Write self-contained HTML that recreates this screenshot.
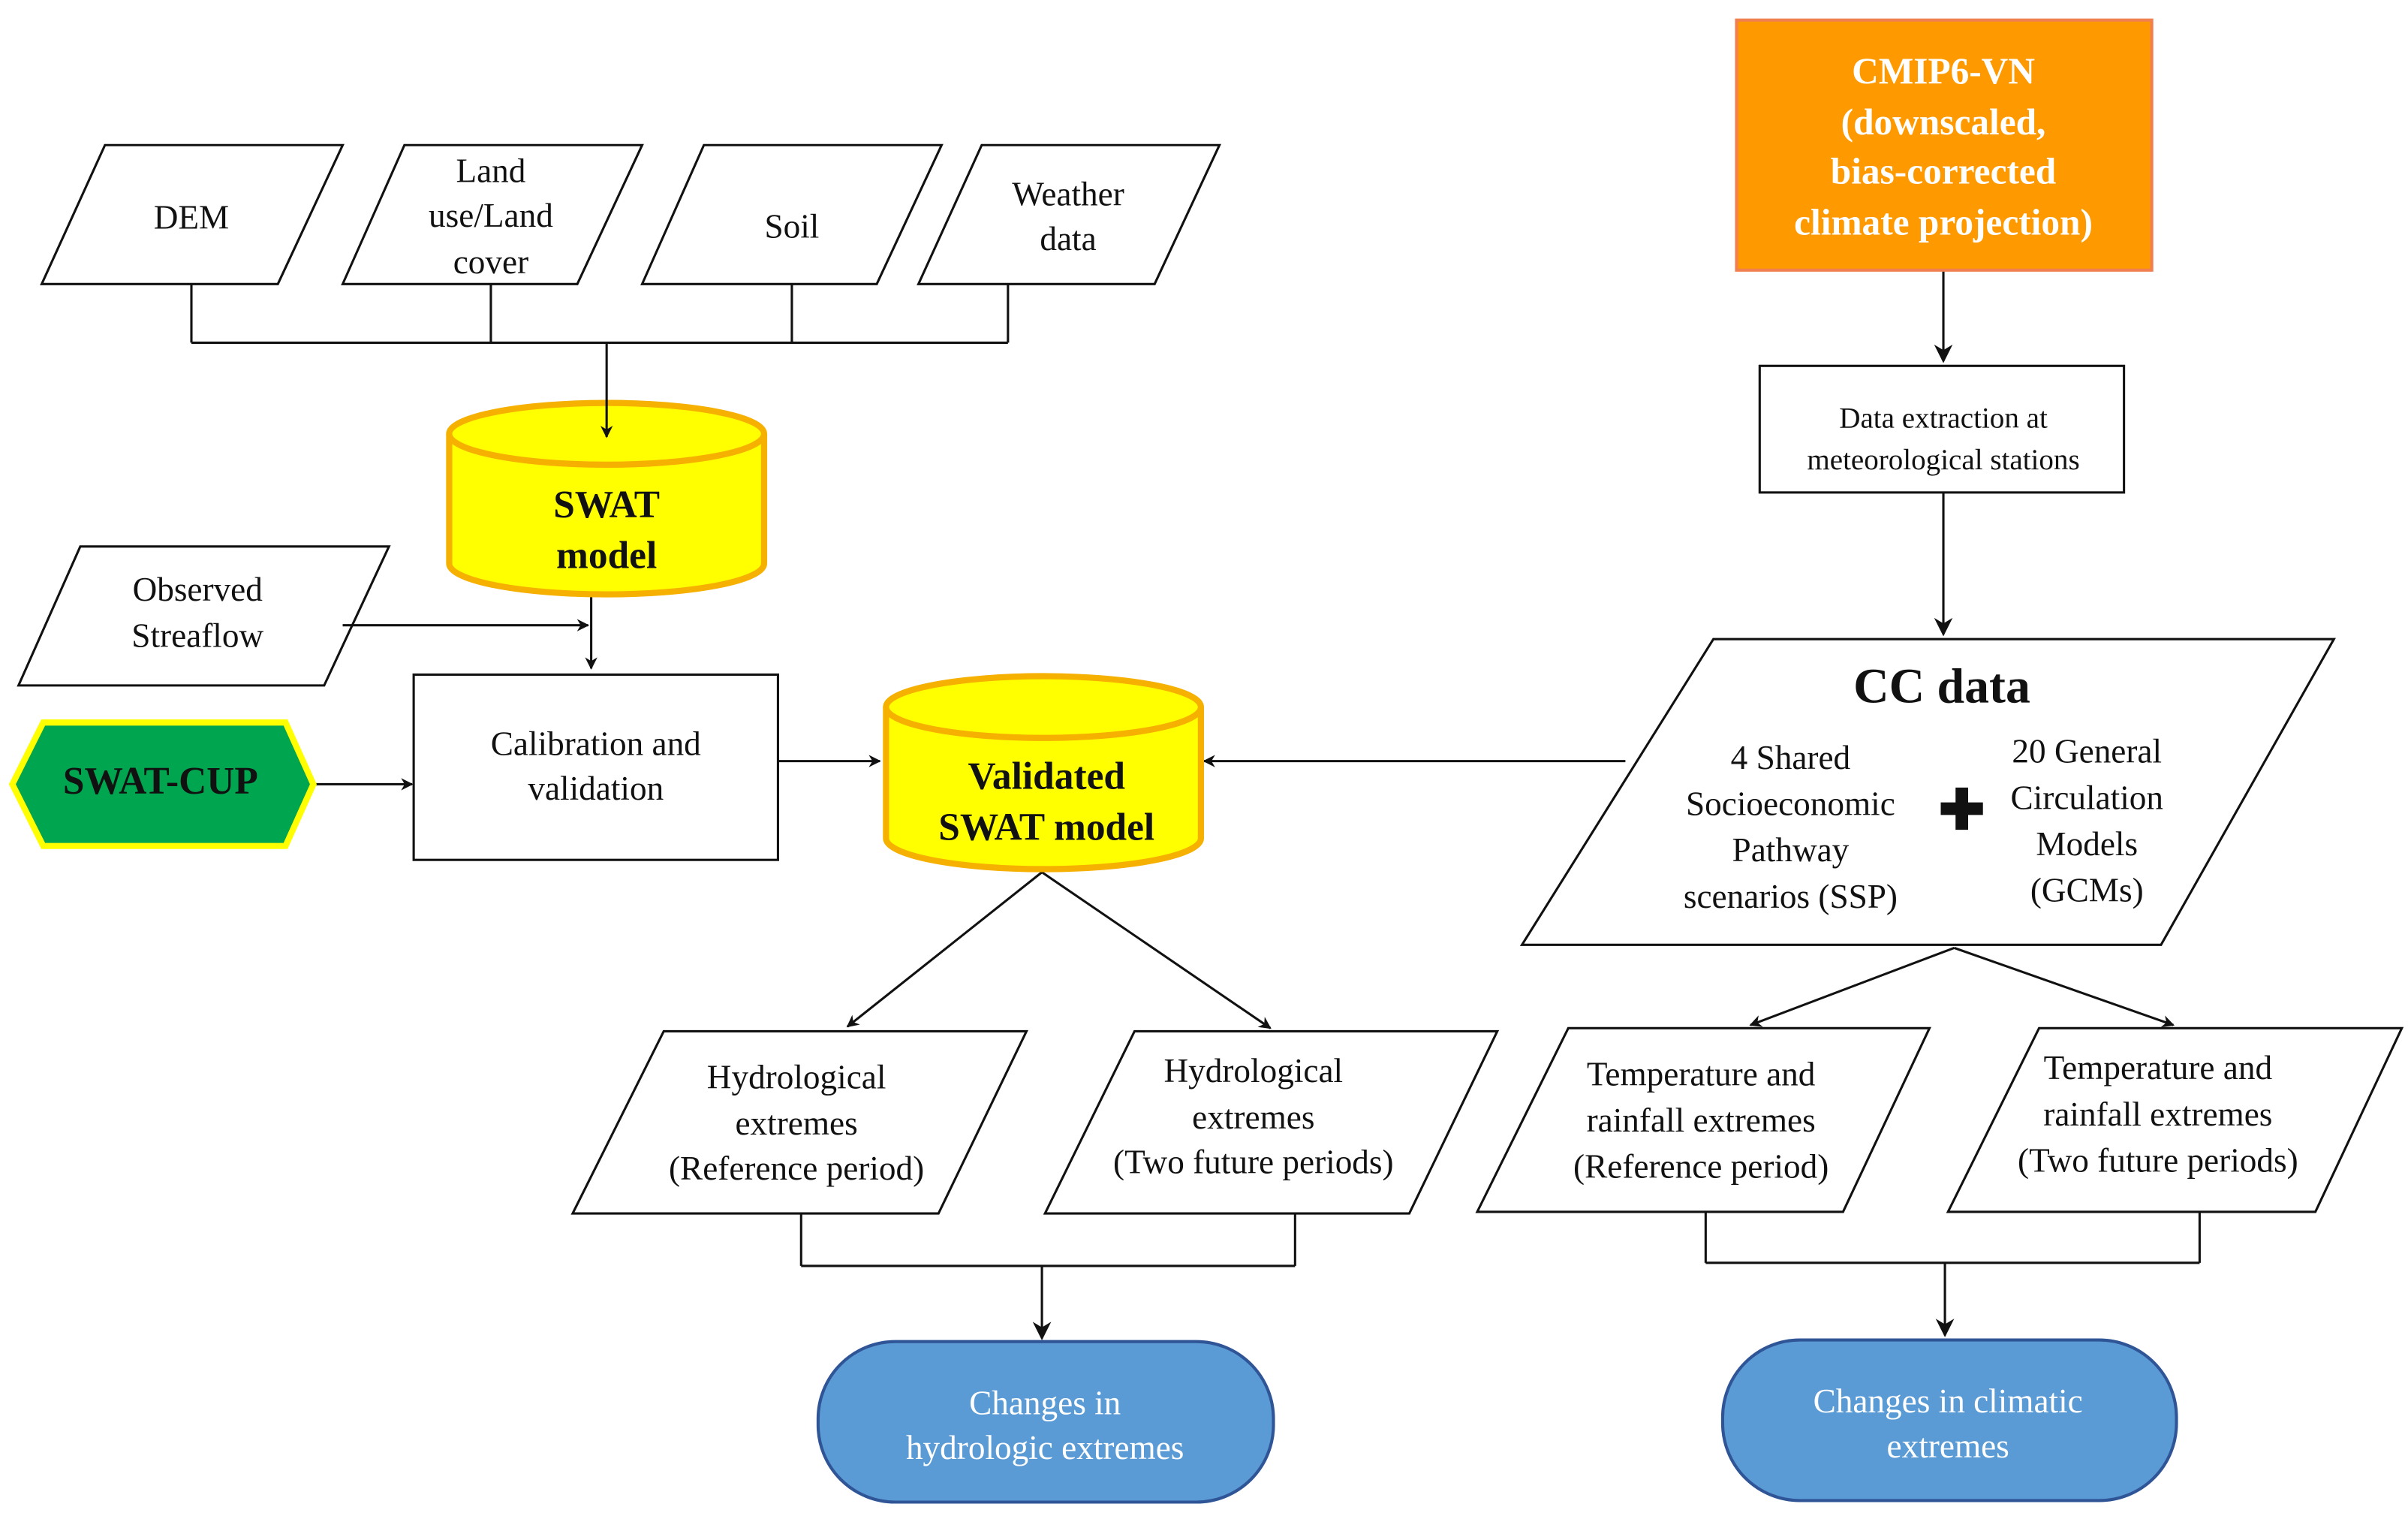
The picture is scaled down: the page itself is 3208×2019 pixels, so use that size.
<!DOCTYPE html>
<html><head><meta charset="utf-8"><style>
html,body{margin:0;padding:0;background:#fff;}
svg{display:block;}
text{font-family:"Liberation Serif","Times New Roman",Times,"DejaVu Serif",serif;font-size:22px;fill:#111;text-anchor:middle;}
.b{font-weight:bold;}
.w{fill:#fff;}
</style></head><body>
<svg width="3208" height="2019" viewBox="0 0 1560 982" preserveAspectRatio="none" font-family="Liberation Serif, Times New Roman, DejaVu Serif, serif">
<defs>
<marker id="a" viewBox="0 0 10 10" refX="9" refY="5" markerWidth="8" markerHeight="8" orient="auto" markerUnits="userSpaceOnUse">
<path d="M0,0 L10,5 L0,10 L3,5 z" fill="#111"/></marker>
<marker id="a2" viewBox="0 0 10 10" refX="9" refY="5" markerWidth="12" markerHeight="12" orient="auto" markerUnits="userSpaceOnUse">
<path d="M0,0 L10,5 L0,10 L3,5 z" fill="#111"/></marker>
</defs>
<g fill="#fff" stroke="#111" stroke-width="1.5">
<polygon points="68,94 222,94 180,184 27,184"/>
<polygon points="262,94 416,94 374,184 222,184"/>
<polygon points="456,94 610,94 568,184 416,184"/>
<polygon points="636,94 790,94 748,184 595,184"/>
<polygon points="52,354 252,354 210,444 12,444"/>
<rect x="268" y="437" width="236" height="120"/>
<polygon points="1110,414 1512,414 1400,612 986,612"/>
<rect x="1140" y="237" width="236" height="82"/>
<polygon points="430,668 665,668 608,786 371,786"/>
<polygon points="735,668 970,668 913,786 677,786"/>
<polygon points="1016,666 1250,666 1194,785 957,785"/>
<polygon points="1321,666 1556,666 1500,785 1262,785"/>
</g>
<g fill="none" stroke="#111" stroke-width="1.5">
<path d="M124,184V222M318,184V222M513,184V222M653,184V222M124,222H653"/>
<path d="M222,405H381" marker-end="url(#a)"/>
<path d="M383,384V433" marker-end="url(#a)"/>
<path d="M203,508H267" marker-end="url(#a)"/>
<path d="M504,493H570" marker-end="url(#a)"/>
<path d="M1053,493H780" marker-end="url(#a)"/>
<path d="M1259,175V234" marker-end="url(#a2)"/>
<path d="M1259,319V411" marker-end="url(#a2)"/>
<path d="M675,565L549,665" marker-end="url(#a)"/>
<path d="M675,565L823,666" marker-end="url(#a)"/>
<path d="M519,786V820M839,786V820M519,820H839"/>
<path d="M675,820V867" marker-end="url(#a2)"/>
<path d="M1266,614L1134,664" marker-end="url(#a)"/>
<path d="M1266,614L1408,664" marker-end="url(#a)"/>
<path d="M1105,785V818M1425,785V818M1105,818H1425"/>
<path d="M1260,818V865" marker-end="url(#a2)"/>
</g>
<g fill="#ffff00" stroke="#f5b000" stroke-width="4">
<path d="M291,281V365A102,20 0 0 0 495,365V281"/>
<ellipse cx="393" cy="281" rx="102" ry="20"/>
<path d="M574,458V543A102,20 0 0 0 778,543V458"/>
<ellipse cx="676" cy="458" rx="102" ry="20"/>
</g>
<path d="M393,222V283" stroke="#111" stroke-width="1.5" marker-end="url(#a)"/>
<polygon points="8,508 28,468 185,468 203,508 185,548 28,548" fill="#00a550" stroke="#ffff00" stroke-width="4"/>
<rect x="1125" y="13" width="269" height="162" fill="#ff9900" stroke="#f08050" stroke-width="2"/>
<rect x="530" y="869" width="295" height="104" rx="50" fill="#5b9bd5" stroke="#2f5597" stroke-width="2"/>
<rect x="1116" y="868" width="294" height="104" rx="50" fill="#5b9bd5" stroke="#2f5597" stroke-width="2"/>
<text x="124" y="148">DEM</text>
<text x="318" y="118">Land</text><text x="318" y="147">use/Land</text><text x="318" y="177">cover</text>
<text x="513" y="154">Soil</text>
<text x="692" y="133">Weather</text><text x="692" y="162">data</text>
<text x="128" y="389">Observed</text><text x="128" y="419">Streaflow</text>
<text x="386" y="489">Calibration and</text><text x="386" y="518">validation</text>
<text class="b" x="393" y="335" style="font-size:25px">SWAT</text><text class="b" x="393" y="368" style="font-size:25px">model</text>
<text class="b" x="678" y="511" style="font-size:25px">Validated</text><text class="b" x="678" y="544" style="font-size:25px">SWAT model</text>
<text class="b" x="104" y="514" style="font-size:25px">SWAT-CUP</text>
<text class="b w" x="1259" y="54" style="font-size:24px">CMIP6-VN</text>
<text class="b w" x="1259" y="87" style="font-size:24px">(downscaled,</text>
<text class="b w" x="1259" y="119" style="font-size:24px">bias-corrected</text>
<text class="b w" x="1259" y="152" style="font-size:24px">climate projection)</text>
<text x="1259" y="277" style="font-size:19px">Data extraction at</text><text x="1259" y="304" style="font-size:19px">meteorological stations</text>
<text class="b" x="1258" y="455" style="font-size:32px">CC data</text>
<text x="1160" y="498">4 Shared</text><text x="1160" y="528">Socioeconomic</text><text x="1160" y="558">Pathway</text><text x="1160" y="588">scenarios (SSP)</text>
<text class="b" x="1271" y="537" style="font-size:36px">✚</text>
<text x="1352" y="494">20 General</text><text x="1352" y="524">Circulation</text><text x="1352" y="554">Models</text><text x="1352" y="584">(GCMs)</text>
<text x="516" y="705">Hydrological</text><text x="516" y="735">extremes</text><text x="516" y="764">(Reference period)</text>
<text x="812" y="701">Hydrological</text><text x="812" y="731">extremes</text><text x="812" y="760">(Two future periods)</text>
<text x="1102" y="703">Temperature and</text><text x="1102" y="733">rainfall extremes</text><text x="1102" y="763">(Reference period)</text>
<text x="1398" y="699">Temperature and</text><text x="1398" y="729">rainfall extremes</text><text x="1398" y="759">(Two future periods)</text>
<text class="w" x="677" y="916">Changes in</text><text class="w" x="677" y="945">hydrologic extremes</text>
<text class="w" x="1262" y="915">Changes in climatic</text><text class="w" x="1262" y="944">extremes</text>
</svg>
</body></html>
